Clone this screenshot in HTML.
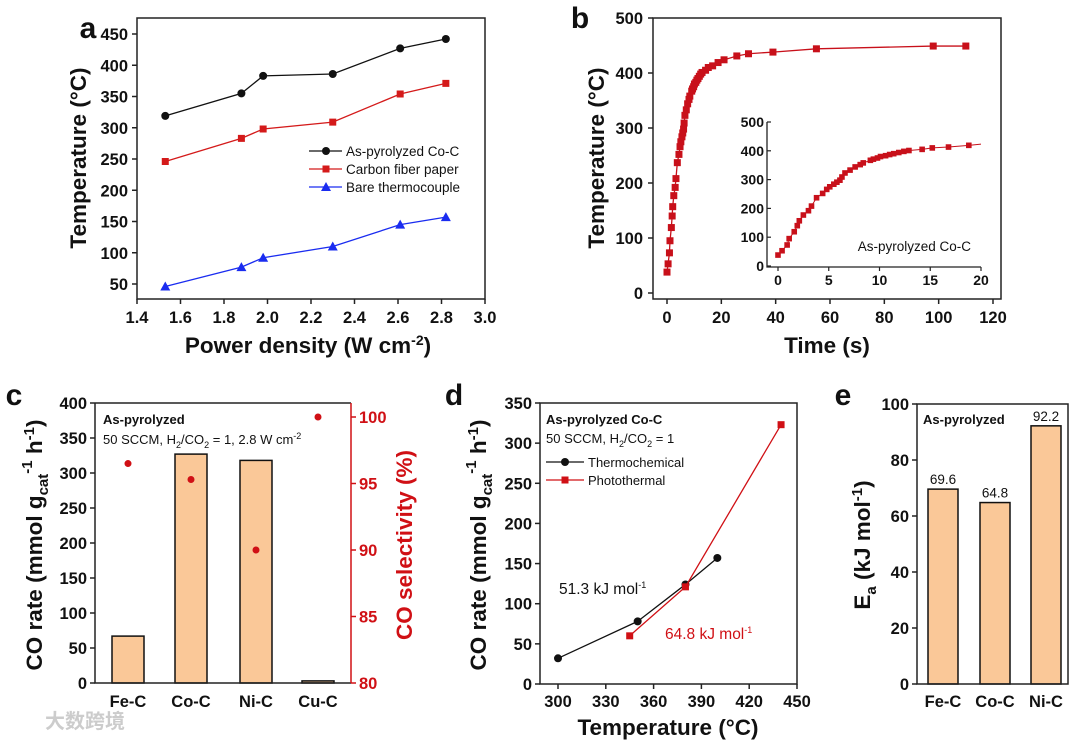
<!DOCTYPE html>
<html><head><meta charset="utf-8"><style>
html,body{margin:0;padding:0;background:#fff;}
svg{display:block;font-family:"Liberation Sans",Arial,sans-serif;}
.tk{font-size:16.5px;font-weight:bold;fill:#111;}
.tt{font-size:22.5px;font-weight:bold;fill:#111;}
.pl{font-size:30px;font-weight:bold;fill:#111;}
</style></head><body>
<svg id="fig" width="1080" height="742" viewBox="0 0 1080 742" xmlns="http://www.w3.org/2000/svg"></svg>
<script>
// ---- Panel a data ----
const aPower = [1.53, 1.88, 1.98, 2.30, 2.61, 2.82];
const aCoC = [319, 355, 383, 386, 427, 442];
const aCFP = [246, 283, 298, 309, 354, 371];
const aBare = [46, 77, 92, 110, 145, 157];
const aXTicks = [1.4, 1.6, 1.8, 2.0, 2.2, 2.4, 2.6, 2.8, 3.0];
const aYTicks = [50, 100, 150, 200, 250, 300, 350, 400, 450];
// ---- Panel b data ----
const bTime = [0,0.4,0.9,1.1,1.6,1.9,2.1,2.5,3,3.3,3.8,4.4,4.8,5.1,5.5,5.8,6.1,6.3,6.6,7.1,7.6,8.1,8.4,9.1,9.4,9.8,10.1,10.6,11,11.4,11.9,12.4,12.9,14.2,15.2,16.8,18.8,21,25.7,30,39,55,98,110];
const bTemp = [38,53,73,95,119,140,157,177,192,208,237,252,266,275,284,291,298,309,323,333,344,352,358,367,371,375,380,383,387,390,394,398,401,405,410,413,419,424,431,435,438,444,449,449];
const bXTicks = [0,20,40,60,80,100,120];
const bYTicks = [0,100,200,300,400,500];
const bInsetXTicks = [0,5,10,15,20];
// ---- Panel c data ----
const cCats = ["Fe-C","Co-C","Ni-C","Cu-C"];
const cRate = [67, 327, 318, 3];
const cSel = [96.5, 95.3, 90.0, 100.0];
const cYTicks = [0,50,100,150,200,250,300,350,400];
const cY2Ticks = [80,85,90,95,100];
// ---- Panel d data ----
const dThermoT = [300, 350, 380, 400];
const dThermoR = [32, 78, 124, 157];
const dPhotoT = [345, 380, 440];
const dPhotoR = [60, 121, 323];
const dXTicks = [300,330,360,390,420,450];
const dYTicks = [0,50,100,150,200,250,300,350];
// ---- Panel e data ----
const eCats = ["Fe-C","Co-C","Ni-C"];
const eEa = [69.6, 64.8, 92.2];
const eYTicks = [0,20,40,60,80,100];

const NS="http://www.w3.org/2000/svg";
const svg=document.getElementById('fig');
function mk(tag, attrs, parent){const e=document.createElementNS(NS,tag);for(const k in attrs)e.setAttribute(k,attrs[k]);(parent||svg).appendChild(e);return e;}
function lin(d0,d1,r0,r1){return v=>r0+(v-d0)/(d1-d0)*(r1-r0);}
function txt(x,y,s,cls,anchor,extra){const t=mk('text',Object.assign({x:x,y:y,'class':cls||'tk','text-anchor':anchor||'middle'},extra||{}));t.textContent=s;return t;}

let e;
// ===== Panel a =====
const ax=lin(1.4,3.0,137,485), ay=lin(50,450,284,34);
e=txt(88,38,'a','pl');


e=mk('rect',{x:137,y:18,width:348,height:281,fill:'none',stroke:'#222','stroke-width':1.5});


aXTicks.forEach(v=>{mk('line',{x1:ax(v),x2:ax(v),y1:299,y2:304,stroke:'#222','stroke-width':1.5});
  e=txt(ax(v),323,v.toFixed(1));
  
  });
aYTicks.forEach(v=>{mk('line',{x1:132,x2:137,y1:ay(v),y2:ay(v),stroke:'#222','stroke-width':1.5});
  e=txt(128,ay(v)+6,String(v),'tk','end');
  
  });
e=txt(308,353,'','tt');
e.innerHTML='Power density (W cm<tspan dy="-8" font-size="14">-2</tspan><tspan dy="8">)</tspan>';


e=txt(0,0,'Temperature (°C)','tt','middle',{transform:'translate(86,158) rotate(-90)'});


function series(xs,ys,fx,fy,color,marker,name){
  const pts=xs.map((v,i)=>fx(v)+','+fy(ys[i])).join(' ');
  e=mk('polyline',{points:pts,fill:'none',stroke:color,'stroke-width':1.3});
  
  
  xs.forEach((v,i)=>{drawMarker(fx(v),fy(ys[i]),color,marker,name);});
}
function drawMarker(x,y,color,marker,name){
  if(marker==='c'){e=mk('circle',{cx:x,cy:y,r:4,fill:color});}
  else if(marker==='s'){e=mk('rect',{x:x-3.5,y:y-3.5,width:7,height:7,fill:color});}
  else if(marker==='ss'){e=mk('rect',{x:x-2.8,y:y-2.8,width:5.6,height:5.6,fill:color});}
  else {e=mk('polygon',{points:(x)+','+(y-5)+' '+(x-5)+','+(y+4)+' '+(x+5)+','+(y+4),fill:color});}
  
  
}
series(aPower,aCoC,ax,ay,'#111','c','as-pyrolyzed-coc');
series(aPower,aCFP,ax,ay,'#d41a1a','s','carbon-fiber-paper');
series(aPower,aBare,ax,ay,'#1a2cf0','t','bare-thermocouple');
[['As-pyrolyzed Co-C','#111','c'],['Carbon fiber paper','#d41a1a','s'],['Bare thermocouple','#1a2cf0','t']].forEach((L,i)=>{
  const y=151+i*18;
  e=mk('line',{x1:309,x2:342,y1:y,y2:y,stroke:L[1],'stroke-width':1.3});
  
  
  drawMarker(326,y,L[1],L[2],'legend');
  e=txt(346,y+5,L[0],'tk','start',{style:'font-size:13.5px;font-weight:normal'});
  
  
});

// ===== Panel b =====
const bx=lin(0,120,667,993), by=lin(0,500,293,18);
e=txt(580,28,'b','pl');


e=mk('rect',{x:653,y:18,width:348,height:281,fill:'none',stroke:'#222','stroke-width':1.5});


bXTicks.forEach(v=>{mk('line',{x1:bx(v),x2:bx(v),y1:299,y2:304,stroke:'#222','stroke-width':1.5});
  e=txt(bx(v),323,String(v));
  
  });
bYTicks.forEach(v=>{mk('line',{x1:648,x2:653,y1:by(v),y2:by(v),stroke:'#222','stroke-width':1.5});
  e=txt(643,by(v)+6,String(v),'tk','end');
  
  });
e=txt(827,353,'Time (s)','tt');


e=txt(0,0,'Temperature (°C)','tt','middle',{transform:'translate(604,158) rotate(-90)'});


series(bTime,bTemp,bx,by,'#c8101a','s','heating-curve');
// inset
const ix=lin(0,20,778,981), iy=lin(0,500,266,122);
e=mk('path',{d:'M767,122 V267 H981',fill:'none',stroke:'#222','stroke-width':1.3});


bYTicks.forEach(v=>{mk('line',{x1:767,x2:771,y1:iy(v),y2:iy(v),stroke:'#222','stroke-width':1.2});
  e=txt(764,iy(v)+5,String(v),'tk','end',{style:'font-size:14px'});
  
  });
bInsetXTicks.forEach(v=>{mk('line',{x1:ix(v),x2:ix(v),y1:267,y2:271,stroke:'#222','stroke-width':1.2});
  e=txt(ix(v),285,String(v),'tk','middle',{style:'font-size:14px'});
  
  });
const insT=bTime.filter(t=>t<=20), insV=bTemp.slice(0,insT.length);
e=mk('polyline',{points:insT.map((t,i)=>ix(t)+','+iy(insV[i])).join(' ')+' '+ix(20)+','+iy(423),fill:'none',stroke:'#c8101a','stroke-width':1});


insT.forEach((t,i)=>drawMarker(ix(t),iy(insV[i]),'#c8101a','ss','inset'));
e=txt(971,251,'As-pyrolyzed Co-C','tk','end',{style:'font-size:13.5px;font-weight:normal'});



// ===== Panel c =====
const cy=lin(0,400,683,403), cy2=lin(80,100,683,417);
const cxC=[128,191,256,318];
e=txt(14,405,'c','pl');


cCats.forEach((c,i)=>{
  e=mk('rect',{x:cxC[i]-16,y:cy(cRate[i]),width:32,height:683-cy(cRate[i]),fill:'#fac898',stroke:'#111','stroke-width':1.5});
  
  
  e=txt(cxC[i],707,c);
  
  
  e=mk('circle',{cx:cxC[i],cy:cy2(cSel[i]),r:3.5,fill:'#d01015'});
  
  
});
e=mk('path',{d:'M95,403 H351 M95,403 V683 H351',fill:'none',stroke:'#222','stroke-width':1.5});


e=mk('line',{x1:351,x2:351,y1:403,y2:683,stroke:'#d01015','stroke-width':1.5});


cYTicks.forEach(v=>{mk('line',{x1:90,x2:95,y1:cy(v),y2:cy(v),stroke:'#222','stroke-width':1.5});
  e=txt(87,cy(v)+6,String(v),'tk','end');
  
  });
cY2Ticks.forEach(v=>{mk('line',{x1:351,x2:356,y1:cy2(v),y2:cy2(v),stroke:'#d01015','stroke-width':1.5});
  e=txt(359,cy2(v)+6,String(v),'tk','start',{style:'fill:#d01015'});
  
  });
e=txt(103,424,'As-pyrolyzed','tk','start',{style:'font-size:13px'});


e=txt(103,444,'','tk','start',{style:'font-size:13px;font-weight:normal'});
e.innerHTML='50 SCCM, H<tspan dy="4" font-size="9">2</tspan><tspan dy="-4">/CO</tspan><tspan dy="4" font-size="9">2</tspan><tspan dy="-4"> = 1, 2.8 W cm</tspan><tspan dy="-5" font-size="9">-2</tspan>';


e=txt(0,0,'','tt','middle',{transform:'translate(42,545) rotate(-90)'});
e.innerHTML='CO rate (mmol g<tspan dy="6" font-size="15">cat</tspan><tspan dy="-16" font-size="15">-1</tspan><tspan dy="10"> h</tspan><tspan dy="-8" font-size="15">-1</tspan><tspan dy="8">)</tspan>';


e=txt(0,0,'CO selectivity (%)','tt','middle',{transform:'translate(412,545) rotate(-90)',style:'fill:#d01015'});


e=txt(45,728,'大数跨境','tk','start',{style:'font-family:\"Liberation Sans\",\"Noto Sans CJK SC\",sans-serif;font-size:20px;fill:#ccc'});



// ===== Panel d =====
const dx=lin(300,450,558,797), dy=lin(0,350,684,403);
e=txt(454,405,'d','pl');


e=mk('rect',{x:540,y:403,width:257,height:281,fill:'none',stroke:'#222','stroke-width':1.5});


dXTicks.forEach(v=>{mk('line',{x1:dx(v),x2:dx(v),y1:684,y2:689,stroke:'#222','stroke-width':1.5});
  e=txt(dx(v),707,String(v));
  
  });
dYTicks.forEach(v=>{mk('line',{x1:535,x2:540,y1:dy(v),y2:dy(v),stroke:'#222','stroke-width':1.5});
  e=txt(532,dy(v)+6,String(v),'tk','end');
  
  });
e=txt(668,735,'Temperature (°C)','tt');


e=txt(0,0,'','tt','middle',{transform:'translate(486,545) rotate(-90)'});
e.innerHTML='CO rate (mmol g<tspan dy="6" font-size="15">cat</tspan><tspan dy="-16" font-size="15">-1</tspan><tspan dy="10"> h</tspan><tspan dy="-8" font-size="15">-1</tspan><tspan dy="8">)</tspan>';


series(dThermoT,dThermoR,dx,dy,'#111','c','thermochemical');
series(dPhotoT,dPhotoR,dx,dy,'#d01015','s','photothermal');
e=txt(546,424,'As-pyrolyzed Co-C','tk','start',{style:'font-size:13px'});


e=txt(546,443,'','tk','start',{style:'font-size:13px;font-weight:normal'});
e.innerHTML='50 SCCM, H<tspan dy="4" font-size="9">2</tspan><tspan dy="-4">/CO</tspan><tspan dy="4" font-size="9">2</tspan><tspan dy="-4"> = 1</tspan>';


[['Thermochemical','#111','c'],['Photothermal','#d01015','s']].forEach((L,i)=>{
  const y=462+i*18;
  e=mk('line',{x1:546,x2:584,y1:y,y2:y,stroke:L[1],'stroke-width':1.3});
  
  
  drawMarker(565,y,L[1],L[2],'legend');
  e=txt(588,y+5,L[0],'tk','start',{style:'font-size:13px;font-weight:normal'});
  
  
});
e=txt(559,594,'','tk','start',{style:'font-size:15.5px;font-weight:normal'});
e.innerHTML='51.3 kJ mol<tspan dy="-6" font-size="9">-1</tspan>';


e=txt(665,639,'','tk','start',{style:'font-size:15.5px;font-weight:normal;fill:#d01015'});
e.innerHTML='64.8 kJ mol<tspan dy="-6" font-size="9">-1</tspan>';



// ===== Panel e =====
const ey=lin(0,100,684,404);
const exC=[943,995,1046];
e=txt(843,405,'e','pl');


eCats.forEach((c,i)=>{
  e=mk('rect',{x:exC[i]-15,y:ey(eEa[i]),width:30,height:684-ey(eEa[i]),fill:'#fac898',stroke:'#111','stroke-width':1.5});
  
  
  e=txt(exC[i],ey(eEa[i])-5,eEa[i].toFixed(1),'tk','middle',{style:'font-size:13.5px;font-weight:normal'});
  
  
  e=txt(exC[i],707,c);
  
  
});
e=mk('rect',{x:917,y:404,width:151,height:280,fill:'none',stroke:'#222','stroke-width':1.5});


eYTicks.forEach(v=>{mk('line',{x1:912,x2:917,y1:ey(v),y2:ey(v),stroke:'#222','stroke-width':1.5});
  e=txt(909,ey(v)+6,String(v),'tk','end');
  
  });
e=txt(923,424,'As-pyrolyzed','tk','start',{style:'font-size:13px'});


e=txt(0,0,'','tt','middle',{transform:'translate(870,545) rotate(-90)'});
e.innerHTML='E<tspan dy="6" font-size="15">a</tspan><tspan dy="-6"> (kJ mol</tspan><tspan dy="-8" font-size="15">-1</tspan><tspan dy="8">)</tspan>';


</script>
</body></html>
